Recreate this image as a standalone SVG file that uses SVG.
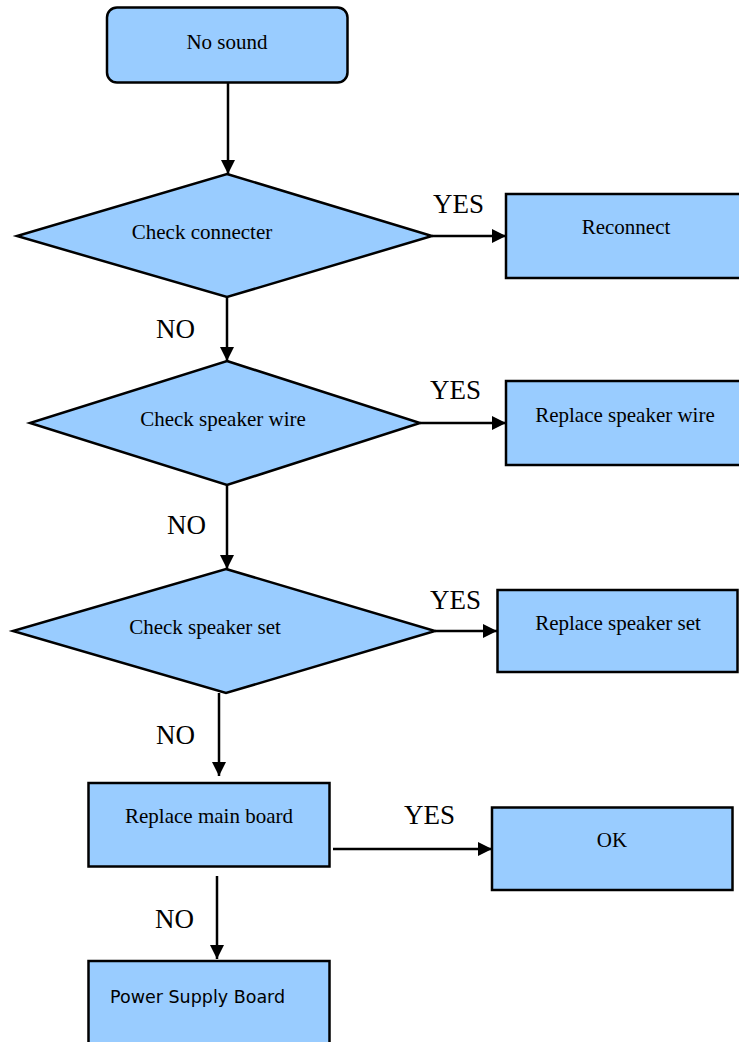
<svg xmlns="http://www.w3.org/2000/svg" width="739" height="1042" viewBox="0 0 739 1042">
<defs>
<style>
.shape{fill:#99ccff;stroke:#000;stroke-width:2.5}
.t{font-family:"Liberation Serif","Times New Roman",serif;font-size:21px;fill:#000;text-anchor:middle}
.lbl{font-family:"Liberation Serif","Times New Roman",serif;font-size:27px;fill:#000}
.s{font-family:"DejaVu Sans",Verdana,sans-serif;font-size:17.5px;fill:#000}
.c{fill:none;stroke:#000;stroke-width:2.5}
</style>
<marker id="arr" viewBox="0 0 14 14" refX="14" refY="7" markerWidth="14" markerHeight="14" markerUnits="userSpaceOnUse" orient="auto">
<path d="M0,0 L14,7 L0,14 Z" fill="#000"/>
</marker>
</defs>
<rect width="739" height="1042" fill="#fff"/>
<g id="connectors">
<line class="c" x1="228" y1="83" x2="228" y2="174" marker-end="url(#arr)"/>
<line class="c" x1="432" y1="236" x2="506" y2="236" marker-end="url(#arr)"/>
<line class="c" x1="227" y1="297" x2="227" y2="361" marker-end="url(#arr)"/>
<line class="c" x1="420" y1="423" x2="506" y2="423" marker-end="url(#arr)"/>
<line class="c" x1="227" y1="485" x2="227" y2="569" marker-end="url(#arr)"/>
<line class="c" x1="435" y1="631" x2="497" y2="631" marker-end="url(#arr)"/>
<line class="c" x1="219" y1="693" x2="219" y2="776" marker-end="url(#arr)"/>
<line class="c" x1="333" y1="849" x2="492" y2="849" marker-end="url(#arr)"/>
<line class="c" x1="217" y1="876" x2="217" y2="959" marker-end="url(#arr)"/>
<text class="lbl" x="433" y="213">YES</text>
<text class="lbl" x="156" y="338">NO</text>
<text class="lbl" x="430" y="399">YES</text>
<text class="lbl" x="167" y="534">NO</text>
<text class="lbl" x="430" y="609">YES</text>
<text class="lbl" x="156" y="744">NO</text>
<text class="lbl" x="404" y="824">YES</text>
<text class="lbl" x="155" y="928">NO</text>
</g>
<g id="no-sound">
<rect class="shape" x="107" y="7.5" width="240.5" height="75" rx="10"/>
<text class="t" x="227" y="49">No sound</text>
</g>
<g id="check-connecter">
<polygon class="shape" points="227,174 432,236 227,297 17,236"/>
<text class="t" x="202" y="239">Check connecter</text>
</g>
<g id="reconnect">
<rect class="shape" x="506" y="194" width="240" height="84"/>
<text class="t" x="626" y="234">Reconnect</text>
</g>
<g id="check-speaker-wire">
<polygon class="shape" points="227,361 420,423 227,485 30,423"/>
<text class="t" x="223" y="426">Check speaker wire</text>
</g>
<g id="replace-speaker-wire">
<rect class="shape" x="506" y="381" width="240" height="84"/>
<text class="t" x="625" y="422">Replace speaker wire</text>
</g>
<g id="check-speaker-set">
<polygon class="shape" points="226,569 435,631 226,693 13,631"/>
<text class="t" x="205" y="634">Check speaker set</text>
</g>
<g id="replace-speaker-set">
<rect class="shape" x="497.5" y="590" width="240" height="82"/>
<text class="t" x="618" y="630">Replace speaker set</text>
</g>
<g id="replace-main-board">
<rect class="shape" x="88.5" y="783" width="241" height="83.5"/>
<text class="t" x="209" y="823">Replace main board</text>
</g>
<g id="ok">
<rect class="shape" x="492" y="807.5" width="240.5" height="82.5"/>
<text class="t" x="612" y="847">OK</text>
</g>
<g id="power-supply-board">
<rect class="shape" x="88.5" y="961" width="241" height="100"/>
<text class="s" x="110" y="1003">Power Supply Board</text>
</g>
</svg>
